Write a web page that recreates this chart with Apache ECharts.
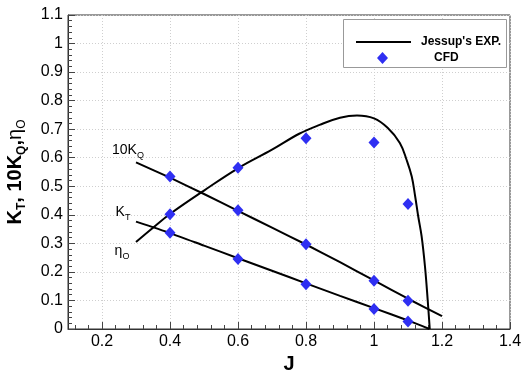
<!DOCTYPE html>
<html><head><meta charset="utf-8">
<script src="https://cdn.jsdelivr.net/npm/echarts@6/dist/echarts.min.js"></script>
<style>html,body{margin:0;padding:0;background:#fff}#c{width:525px;height:370px}</style>
</head><body><div id="c"></div>
<script>
// ---- tick labels ----
const xMajorTicks = [0.2, 0.4, 0.6, 0.8, 1.0, 1.2, 1.4];
const yMin = 0, yMax = 1.1, yStep = 0.1;

// ---- Jessup's experiment (lines) ----
const expKT_J  = [0.3, 0.4, 0.5, 0.6, 0.7, 0.8, 0.9, 1.0, 1.1, 1.163];
const expKT    = [0.376, 0.336, 0.292, 0.248, 0.204, 0.160, 0.116, 0.073, 0.030, 0.0];
const expKQ_J  = [0.3, 0.4, 0.5, 0.6, 0.7, 0.8, 0.9, 1.0, 1.1, 1.2];
const expKQ10  = [0.584, 0.530, 0.473, 0.414, 0.355, 0.296, 0.234, 0.170, 0.106, 0.045];
const expEta_J = [0.3, 0.35, 0.4, 0.5, 0.6, 0.7, 0.78, 0.84, 0.9, 0.95, 1.0, 1.04, 1.076, 1.096, 1.111, 1.121, 1.13, 1.14, 1.15, 1.158, 1.164];
const expEta   = [0.305, 0.355, 0.403, 0.485, 0.563, 0.628, 0.684, 0.715, 0.740, 0.748, 0.738, 0.705, 0.652, 0.592, 0.534, 0.465, 0.395, 0.325, 0.218, 0.100, 0.0];

// ---- CFD (diamonds) ----
const cfdJ    = [0.4, 0.6, 0.8, 1.0, 1.1];
const cfdKT   = [0.337, 0.245, 0.157, 0.070, 0.026];
const cfdKQ10 = [0.534, 0.416, 0.297, 0.169, 0.099];
const cfdEta  = [0.402, 0.565, 0.668, 0.653, 0.438];

const FONT = "'Liberation Sans', Arial, sans-serif";
const zip = (a, b) => a.map((v, i) => [v, b[i]]);

// minor x ticks every 0.04 aligned to the major grid
const xMinorTicks = [];
for (let k = 3; k * 0.04 < 1.4; k++) {
  const v = Math.round(k * 0.04 * 1000) / 1000;
  if (!xMajorTicks.some(m => Math.abs(m - v) < 1e-6)) xMinorTicks.push(v);
}

const subRich = {
  a: {fontSize: 14, fontFamily: FONT, color: '#000', lineHeight: 20, verticalAlign: 'middle'},
  s: {fontSize: 9, fontFamily: FONT, color: '#000', lineHeight: 20, verticalAlign: 'bottom'}
};
function curveLabel(coord, text, offset) {
  return {
    symbol: 'circle', symbolSize: 1, silent: true,
    itemStyle: {color: 'rgba(0,0,0,0)'},
    label: {show: true, position: 'inside', offset: offset, formatter: text, rich: subRich},
    data: [{coord: coord}]
  };
}

const lineStyle = {color: '#000', width: 2};
const chart = echarts.init(document.getElementById('c'));
chart.setOption({
  animation: false,
  backgroundColor: '#fff',
  grid: {left: 68, right: 15, top: 15, bottom: 41, show: true, borderColor: '#333', borderWidth: 1,
         containLabel: false, outerBoundsMode: 'none'},
  graphic: [{
    type: 'rect', left: 343, top: 19, z: 100,
    shape: {width: 163, height: 48},
    style: {fill: '#fff', stroke: '#999', lineWidth: 1}
  }],
  legend: [{
    data: ["Jessup's EXP."], left: 351, top: 31, z: 101,
    icon: 'rect', itemWidth: 55, itemHeight: 2,
    textStyle: {fontFamily: FONT, fontSize: 12, fontWeight: 'bold', color: '#000', padding: [0, 0, 0, 5]}
  }, {
    data: ['CFD'], left: 372, top: 47, z: 101,
    icon: 'diamond', itemWidth: 11, itemHeight: 12,
    itemStyle: {opacity: 1},
    textStyle: {fontFamily: FONT, fontSize: 12, fontWeight: 'bold', color: '#000', padding: [0, 0, 0, 41]}
  }],
  xAxis: [{
    type: 'value', min: 0.1, max: 1.4,
    name: 'J', nameLocation: 'middle', nameGap: 18,
    nameTextStyle: {fontFamily: FONT, fontSize: 20, fontWeight: 'bold', color: '#000'},
    axisLine: {show: true, onZero: false, lineStyle: {color: '#333', width: 1}},
    axisTick: {show: true, inside: true, length: 7, customValues: xMajorTicks, lineStyle: {color: '#444'}},
    axisLabel: {customValues: xMajorTicks, fontFamily: FONT, fontSize: 16, color: '#000', margin: 5},
    splitLine: {show: true, lineStyle: {color: '#cfcfcf', type: [1, 2], width: 1}}
  }, {
    type: 'value', min: 0.1, max: 1.4, position: 'bottom',
    axisLine: {show: false},
    axisTick: {show: true, inside: true, length: 4, customValues: xMinorTicks, lineStyle: {color: '#444'}},
    axisLabel: {show: false},
    splitLine: {show: false}
  }],
  yAxis: {
    type: 'value', min: yMin, max: yMax, interval: yStep,
    name: '{b|K}{bs|T}{b|, 10K}{bs|Q}{b|,}{e|η}{es|O}', nameLocation: 'middle', nameGap: 40,
    nameTextStyle: {
      rich: {
        b: {fontFamily: FONT, fontSize: 20, fontWeight: 'bold', color: '#000', lineHeight: 26, verticalAlign: 'middle'},
        bs: {fontFamily: FONT, fontSize: 12, fontWeight: 'bold', color: '#000', lineHeight: 26, verticalAlign: 'bottom'},
        e: {fontFamily: FONT, fontSize: 20, color: '#000', lineHeight: 26, verticalAlign: 'middle'},
        es: {fontFamily: FONT, fontSize: 12, color: '#000', lineHeight: 26, verticalAlign: 'bottom'}
      }
    },
    axisLine: {show: true, onZero: false, lineStyle: {color: '#333', width: 1}},
    axisTick: {show: true, inside: true, length: 7, lineStyle: {color: '#444'}},
    minorTick: {show: true, splitNumber: 5, length: 4, lineStyle: {color: '#444'}},
    axisLabel: {fontFamily: FONT, fontSize: 16, color: '#000', margin: 5},
    splitLine: {show: true, lineStyle: {color: '#cfcfcf', type: [1, 2], width: 1}}
  },
  series: [{
    name: "Jessup's EXP.", type: 'line', showSymbol: false, smooth: 0.2,
    data: zip(expKT_J, expKT), lineStyle: lineStyle, itemStyle: {color: '#000'},
    markPoint: curveLabel([expKT_J[0], expKT[0]], '{a|K}{s|T}', [-13, -10])
  }, {
    name: "Jessup's EXP.", type: 'line', showSymbol: false, smooth: 0.2,
    data: zip(expKQ_J, expKQ10), lineStyle: lineStyle, itemStyle: {color: '#000'},
    markPoint: curveLabel([expKQ_J[0], expKQ10[0]], '{a|10K}{s|Q}', [-8, -12])
  }, {
    name: "Jessup's EXP.", type: 'line', showSymbol: false, smooth: 0.4,
    data: zip(expEta_J, expEta), lineStyle: lineStyle, itemStyle: {color: '#000'},
    markPoint: curveLabel([expEta_J[0], expEta[0]], '{a|η}{s|O}', [-14, 9])
  }, {
    name: 'CFD', type: 'scatter', symbol: 'diamond', symbolSize: [11, 12],
    itemStyle: {color: '#2f2ff2', opacity: 1}, z: 5,
    data: zip(cfdJ, cfdKT).concat(zip(cfdJ, cfdKQ10), zip(cfdJ, cfdEta))
  }]
});
</script></body></html>
